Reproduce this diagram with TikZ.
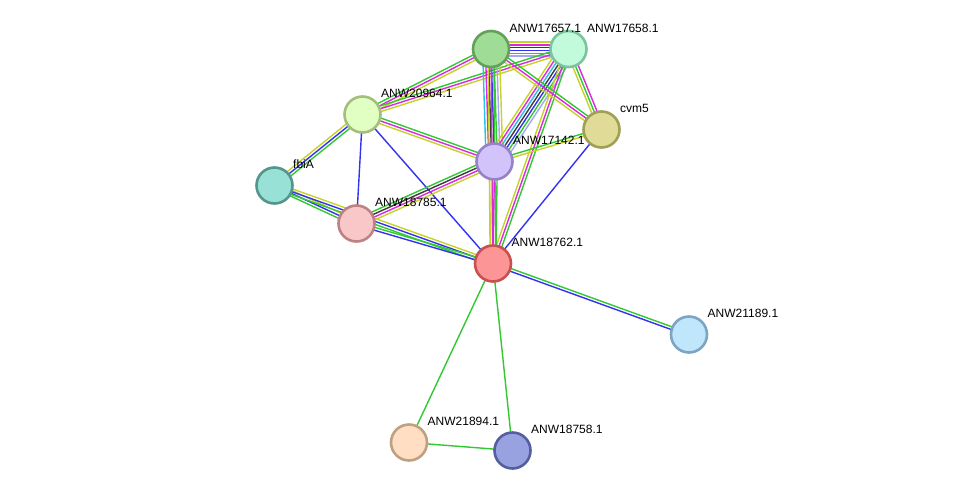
\documentclass[tikz,border=0pt]{standalone}
\usepackage{fontspec}
\setmainfont{Liberation Sans}
\usetikzlibrary{calc,backgrounds}
\definecolor{tmc}{RGB}{199,210,40}
\definecolor{nbc}{RGB}{50,200,50}
\definecolor{coc}{RGB}{50,50,240}
\definecolor{exc}{RGB}{220,40,220}
\definecolor{dbc}{RGB}{40,190,230}
\definecolor{cec}{RGB}{60,60,60}
\definecolor{hoc}{RGB}{165,165,250}
\newcommand\bund[4]{%
  \foreach \cc [count=\ii] in {#4}{%
    \pgfmathsetmacro\off{(\ii-1-(#3-1)/2)*2.8}%
    \draw[edgeline,\cc] ($(#1.center)!\off pt!90:(#2.center)$) -- ($(#2.center)!\off pt!-90:(#1.center)$);
  }}
\tikzset{
  prot/.style={circle,minimum size=36pt,inner sep=0pt,line width=2.6pt},
  lab/.style={anchor=west,inner sep=0pt,font=\fontsize{12}{14}\selectfont},
  edgeline/.style={line width=1.4pt}
}
\begin{document}
\begin{tikzpicture}[x=1pt,y=-1pt]
\useasboundingbox (0,0) rectangle (975,496);
\node[prot,fill={rgb,255:red,159;green,220;blue,150},draw={rgb,255:red,100;green,160;blue,90}] (a57) at (491,49) {};
\node[prot,fill={rgb,255:red,194;green,250;blue,220},draw={rgb,255:red,125;green,195;blue,155}] (a58) at (568.5,49) {};
\node[prot,fill={rgb,255:red,225;green,255;blue,195},draw={rgb,255:red,165;green,190;blue,125}] (a64) at (362.5,114.5) {};
\node[prot,fill={rgb,255:red,224;green,220;blue,152},draw={rgb,255:red,160;green,160;blue,85}] (cvm) at (601.5,129.5) {};
\node[prot,fill={rgb,255:red,210;green,195;blue,250},draw={rgb,255:red,150;green,130;blue,200}] (a42) at (494.5,161.5) {};
\node[prot,fill={rgb,255:red,152;green,225;blue,215},draw={rgb,255:red,85;green,150;blue,140}] (fbi) at (274.5,185.5) {};
\node[prot,fill={rgb,255:red,248;green,200;blue,200},draw={rgb,255:red,190;green,130;blue,130}] (a85) at (356.5,223.5) {};
\node[prot,fill={rgb,255:red,252;green,150;blue,150},draw={rgb,255:red,200;green,80;blue,80}] (a62) at (493,263.5) {};
\node[prot,fill={rgb,255:red,192;green,230;blue,252},draw={rgb,255:red,125;green,165;blue,195}] (a89) at (689,334.5) {};
\node[prot,fill={rgb,255:red,255;green,222;blue,195},draw={rgb,255:red,190;green,160;blue,130}] (a94) at (409,442.5) {};
\node[prot,fill={rgb,255:red,152;green,162;blue,225},draw={rgb,255:red,85;green,95;blue,160}] (a58b) at (512.5,450.5) {};

\node[lab] (l57) at ($(a57)+(18.5,-21)$) {ANW17657.1};
\node[lab] (l58) at ($(a58)+(18.5,-21)$) {ANW17658.1};
\node[lab] (l64) at ($(a64)+(18.5,-21)$) {ANW20964.1};
\node[lab] (lcvm) at ($(cvm)+(18.5,-21)$) {cvm5};
\node[lab] (l42) at ($(a42)+(18.5,-21)$) {ANW17142.1};
\node[lab] (lfbi) at ($(fbi)+(18.5,-21)$) {fbiA};
\node[lab] (l85) at ($(a85)+(18.5,-21)$) {ANW18785.1};
\node[lab] (l62) at ($(a62)+(18.5,-21)$) {ANW18762.1};
\node[lab] (l89) at ($(a89)+(18.5,-21)$) {ANW21189.1};
\node[lab] (l94) at ($(a94)+(18.5,-21)$) {ANW21894.1};
\node[lab] (l58b) at ($(a58b)+(18.5,-21)$) {ANW18758.1};

\begin{pgfonlayer}{background}
\bund{a57}{a58}{6}{hoc,nbc,coc,cec,exc,tmc}
\bund{a64}{a57}{3}{tmc,exc,nbc}
\bund{a64}{a58}{3}{tmc,exc,nbc}
\bund{a57}{a42}{7}{dbc,exc,cec,coc,nbc,hoc,tmc}
\bund{a58}{a42}{7}{tmc,exc,dbc,cec,coc,nbc,hoc}
\bund{a57}{a62}{3}{tmc,exc,nbc}
\bund{a58}{a62}{3}{tmc,exc,nbc}
\bund{a57}{cvm}{3}{tmc,exc,nbc}
\bund{a58}{cvm}{3}{tmc,nbc,exc}
\bund{a64}{a42}{3}{tmc,exc,nbc}
\bund{a64}{fbi}{3}{tmc,coc,nbc}
\bund{a64}{a85}{1}{coc}
\bund{a64}{a62}{1}{coc}
\bund{a42}{cvm}{2}{tmc,nbc}
\bund{a42}{a85}{4}{nbc,cec,exc,tmc}
\bund{a42}{a62}{3}{tmc,exc,nbc}
\bund{cvm}{a62}{1}{coc}
\bund{fbi}{a85}{3}{nbc,coc,tmc}
\bund{fbi}{a62}{3}{nbc,coc,tmc}
\bund{a85}{a62}{2}{coc,nbc}
\bund{a62}{a89}{2}{coc,nbc}
\bund{a62}{a94}{1}{nbc}
\bund{a62}{a58b}{1}{nbc}
\bund{a94}{a58b}{1}{nbc}
\end{pgfonlayer}
\end{tikzpicture}
\end{document}
